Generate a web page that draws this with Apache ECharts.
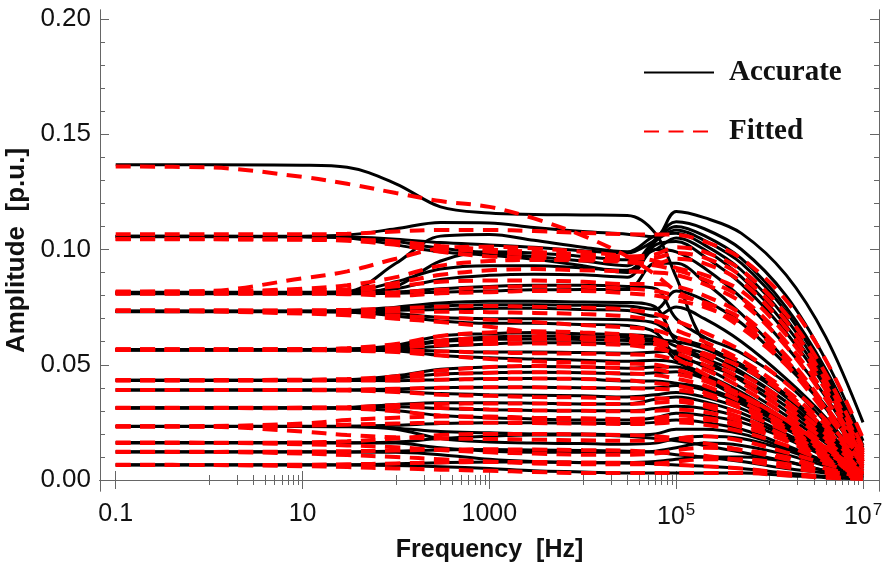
<!DOCTYPE html>
<html>
<head>
<meta charset="utf-8">
<script src="https://cdn.jsdelivr.net/npm/echarts@6/dist/echarts.min.js"></script>
<style>html,body{margin:0;padding:0;background:#fff;}#chart{width:885px;height:574px;}</style>
</head>
<body>
<div id="chart"></div>
<script>
// ---------- data ----------
const freq = [0.1, 1, 10, 30, 100, 300, 1000, 3000, 1e4, 3e4, 6e4, 1e5, 2e5, 5e5, 1.5e6, 4e6, 1e7];

// Accurate (solid black)
const acc01 = [0.1368,0.1368,0.1366,0.1357,0.1285,0.1185,0.1158,0.1152,0.1150,0.1148,0.1070,0.0880,0.0600,0.0500,0.0370,0.0210,0.0050];
const acc02 = [0.1058,0.1058,0.1058,0.1063,0.1090,0.1117,0.1115,0.1095,0.1078,0.1066,0.1055,0.1165,0.1138,0.1070,0.0890,0.0620,0.0250];
const acc03 = [0.1057,0.1057,0.1056,0.1053,0.1035,0.1005,0.0985,0.0970,0.0950,0.0930,0.1045,0.1120,0.1090,0.1000,0.0800,0.0520,0.0170];
const acc04 = [0.1055,0.1055,0.1054,0.1050,0.1020,0.0990,0.0975,0.0958,0.0930,0.0900,0.1035,0.1100,0.1060,0.0960,0.0750,0.0480,0.0150];
const acc05 = [0.0815,0.0815,0.0815,0.0818,0.0940,0.1058,0.1065,0.1040,0.1010,0.0990,0.1060,0.1070,0.1020,0.0910,0.0700,0.0440,0.0130];
const acc06 = [0.0812,0.0812,0.0812,0.0815,0.0860,0.0915,0.0930,0.0930,0.0920,0.0910,0.1020,0.1035,0.0970,0.0850,0.0640,0.0400,0.0110];
const acc07 = [0.0810,0.0810,0.0810,0.0812,0.0830,0.0870,0.0888,0.0893,0.0890,0.0880,0.1000,0.0990,0.0920,0.0790,0.0580,0.0360,0.0100];
const acc08 = [0.0808,0.0808,0.0808,0.0808,0.0810,0.0815,0.0820,0.0825,0.0826,0.0826,0.0940,0.0940,0.0860,0.0720,0.0520,0.0320,0.0090];
const acc09 = [0.0733,0.0733,0.0733,0.0735,0.0750,0.0768,0.0775,0.0775,0.0772,0.0770,0.0750,0.0600,0.0530,0.0460,0.0340,0.0200,0.0050];
const acc10 = [0.0732,0.0732,0.0732,0.0732,0.0736,0.0740,0.0745,0.0745,0.0740,0.0735,0.0710,0.0750,0.0700,0.0600,0.0440,0.0270,0.0070];
const acc11 = [0.0730,0.0730,0.0730,0.0728,0.0712,0.0690,0.0680,0.0680,0.0675,0.0670,0.0640,0.0540,0.0500,0.0440,0.0320,0.0180,0.0040];
const acc12 = [0.0566,0.0566,0.0566,0.0568,0.0585,0.0625,0.0635,0.0640,0.0635,0.0630,0.0620,0.0580,0.0550,0.0470,0.0340,0.0190,0.0050];
const acc13 = [0.0565,0.0565,0.0565,0.0565,0.0568,0.0580,0.0590,0.0595,0.0595,0.0590,0.0590,0.0550,0.0490,0.0400,0.0280,0.0160,0.0040];
const acc14 = [0.0564,0.0564,0.0564,0.0563,0.0560,0.0540,0.0530,0.0525,0.0520,0.0515,0.0520,0.0510,0.0460,0.0380,0.0260,0.0140,0.0030];
const acc15 = [0.0433,0.0433,0.0433,0.0435,0.0452,0.0480,0.0490,0.0492,0.0490,0.0485,0.0490,0.0490,0.0450,0.0370,0.0260,0.0140,0.0030];
const acc16 = [0.0432,0.0432,0.0432,0.0432,0.0431,0.0435,0.0440,0.0440,0.0438,0.0430,0.0430,0.0420,0.0400,0.0340,0.0240,0.0130,0.0030];
const acc17 = [0.0391,0.0391,0.0391,0.0390,0.0385,0.0375,0.0370,0.0368,0.0365,0.0360,0.0370,0.0380,0.0360,0.0310,0.0220,0.0120,0.0030];
const acc18 = [0.0313,0.0313,0.0313,0.0315,0.0328,0.0335,0.0335,0.0333,0.0330,0.0330,0.0350,0.0360,0.0340,0.0290,0.0200,0.0110,0.0020];
const acc19 = [0.0312,0.0312,0.0312,0.0311,0.0300,0.0280,0.0270,0.0265,0.0260,0.0260,0.0270,0.0290,0.0280,0.0250,0.0180,0.0100,0.0020];
const acc20 = [0.0233,0.0233,0.0233,0.0233,0.0225,0.0210,0.0205,0.0200,0.0200,0.0195,0.0200,0.0220,0.0220,0.0200,0.0140,0.0080,0.0020];
const acc21 = [0.0232,0.0232,0.0232,0.0231,0.0220,0.0180,0.0165,0.0160,0.0158,0.0155,0.0160,0.0180,0.0190,0.0180,0.0130,0.0070,0.0020];
const acc22 = [0.0163,0.0163,0.0163,0.0162,0.0160,0.0140,0.0125,0.0120,0.0120,0.0120,0.0125,0.0140,0.0160,0.0150,0.0110,0.0060,0.0010];
const acc23 = [0.0123,0.0123,0.0123,0.0122,0.0120,0.0110,0.0090,0.0080,0.0075,0.0075,0.0080,0.0090,0.0100,0.0100,0.0080,0.0040,0.0010];
const acc24 = [0.0066,0.0066,0.0066,0.0065,0.0063,0.0058,0.0050,0.0040,0.0035,0.0030,0.0030,0.0030,0.0030,0.0030,0.0020,0.0010,0.0005];
const acc25 = [0.0161,0.0161,0.0161,0.0160,0.0165,0.0180,0.0190,0.0195,0.0195,0.0190,0.0180,0.0170,0.0150,0.0120,0.0080,0.0040,0.0010];
const acc26 = [0.0565,0.0565,0.0565,0.0566,0.0575,0.0600,0.0610,0.0612,0.0610,0.0605,0.0600,0.0520,0.0440,0.0350,0.0240,0.0130,0.0030];
const acc27 = [0.1056,0.1056,0.1056,0.1054,0.1045,0.1030,0.1020,0.1010,0.0995,0.0985,0.1040,0.1085,0.1040,0.0940,0.0730,0.0460,0.0140];
const acc28 = [0.0811,0.0811,0.0811,0.0812,0.0840,0.0950,0.0990,0.0985,0.0970,0.0955,0.1000,0.1050,0.1000,0.0880,0.0670,0.0420,0.0120];
const acc29 = [0.0809,0.0809,0.0809,0.0810,0.0815,0.0830,0.0840,0.0845,0.0845,0.0840,0.0830,0.0700,0.0620,0.0550,0.0420,0.0250,0.0060];
const acc30 = [0.0731,0.0731,0.0731,0.0733,0.0742,0.0755,0.0760,0.0760,0.0758,0.0755,0.0740,0.0820,0.0780,0.0680,0.0500,0.0310,0.0080];
const acc31 = [0.0731,0.0731,0.0731,0.0730,0.0722,0.0705,0.0700,0.0700,0.0698,0.0695,0.0680,0.0620,0.0580,0.0500,0.0370,0.0220,0.0050];
const acc32 = [0.0566,0.0566,0.0566,0.0567,0.0580,0.0605,0.0620,0.0625,0.0622,0.0618,0.0610,0.0600,0.0570,0.0490,0.0360,0.0210,0.0050];
const acc33 = [0.0564,0.0564,0.0564,0.0564,0.0565,0.0560,0.0555,0.0555,0.0553,0.0550,0.0555,0.0560,0.0520,0.0430,0.0300,0.0170,0.0040];
const acc34 = [0.0433,0.0433,0.0433,0.0434,0.0442,0.0460,0.0465,0.0467,0.0465,0.0460,0.0465,0.0470,0.0440,0.0360,0.0250,0.0140,0.0030];
const acc35 = [0.0390,0.0390,0.0390,0.0391,0.0395,0.0400,0.0402,0.0402,0.0400,0.0398,0.0400,0.0410,0.0390,0.0330,0.0230,0.0120,0.0030];
const acc36 = [0.0312,0.0312,0.0312,0.0313,0.0318,0.0310,0.0305,0.0302,0.0300,0.0300,0.0310,0.0320,0.0310,0.0270,0.0190,0.0100,0.0020];
const acc37 = [0.0232,0.0232,0.0232,0.0233,0.0238,0.0245,0.0248,0.0248,0.0246,0.0245,0.0250,0.0260,0.0250,0.0220,0.0150,0.0080,0.0020];
const acc38 = [0.0122,0.0122,0.0122,0.0122,0.0125,0.0130,0.0132,0.0130,0.0128,0.0125,0.0120,0.0110,0.0100,0.0080,0.0050,0.0030,0.0010];
const acc39 = [0.0065,0.0065,0.0065,0.0066,0.0070,0.0075,0.0078,0.0078,0.0076,0.0074,0.0070,0.0065,0.0060,0.0050,0.0030,0.0015,0.0005];

// Fitted (dashed red)
const fit01 = [0.1360,0.1356,0.1315,0.1285,0.1245,0.1210,0.1185,0.1135,0.1060,0.0970,0.0890,0.0820,0.0760,0.0660,0.0500,0.0310,0.0080];
const fit02 = [0.1066,0.1066,0.1066,0.1068,0.1078,0.1085,0.1085,0.1080,0.1072,0.1066,0.1065,0.1064,0.1035,0.0960,0.0780,0.0520,0.0180];
const fit03 = [0.1046,0.1046,0.1045,0.1043,0.1035,0.1015,0.1000,0.0990,0.0980,0.0970,0.0980,0.1010,0.0990,0.0910,0.0720,0.0460,0.0140];
const fit04 = [0.1044,0.1044,0.1042,0.1038,0.1020,0.0990,0.0970,0.0965,0.0958,0.0950,0.0940,0.0960,0.0940,0.0860,0.0660,0.0410,0.0120];
const fit05 = [0.0815,0.0820,0.0875,0.0905,0.0960,0.1005,0.1012,0.1005,0.0990,0.0970,0.0950,0.0920,0.0890,0.0820,0.0630,0.0390,0.0110];
const fit06 = [0.0818,0.0818,0.0822,0.0828,0.0855,0.0890,0.0910,0.0915,0.0910,0.0905,0.0900,0.0890,0.0850,0.0770,0.0580,0.0350,0.0100];
const fit07 = [0.0812,0.0812,0.0815,0.0820,0.0840,0.0860,0.0865,0.0865,0.0860,0.0850,0.0850,0.0840,0.0800,0.0720,0.0540,0.0320,0.0090];
const fit08 = [0.0808,0.0808,0.0808,0.0806,0.0800,0.0810,0.0815,0.0820,0.0820,0.0810,0.0800,0.0780,0.0750,0.0680,0.0500,0.0290,0.0080];
const fit09 = [0.0733,0.0731,0.0722,0.0715,0.0700,0.0685,0.0665,0.0640,0.0615,0.0600,0.0590,0.0580,0.0550,0.0490,0.0370,0.0220,0.0060];
const fit10 = [0.0735,0.0735,0.0734,0.0733,0.0730,0.0730,0.0728,0.0725,0.0720,0.0710,0.0690,0.0650,0.0600,0.0520,0.0390,0.0240,0.0070];
const fit11 = [0.0567,0.0567,0.0568,0.0572,0.0590,0.0625,0.0640,0.0645,0.0640,0.0630,0.0610,0.0580,0.0540,0.0460,0.0340,0.0200,0.0050];
const fit12 = [0.0565,0.0565,0.0566,0.0567,0.0575,0.0585,0.0590,0.0592,0.0590,0.0585,0.0570,0.0550,0.0500,0.0420,0.0300,0.0170,0.0040];
const fit13 = [0.0564,0.0564,0.0563,0.0561,0.0555,0.0540,0.0525,0.0515,0.0510,0.0505,0.0500,0.0480,0.0440,0.0370,0.0260,0.0140,0.0030];
const fit14 = [0.0434,0.0434,0.0435,0.0438,0.0450,0.0475,0.0490,0.0495,0.0490,0.0485,0.0480,0.0460,0.0430,0.0360,0.0260,0.0140,0.0030];
const fit15 = [0.0432,0.0432,0.0432,0.0432,0.0432,0.0435,0.0438,0.0440,0.0438,0.0432,0.0420,0.0410,0.0380,0.0320,0.0230,0.0120,0.0030];
const fit16 = [0.0391,0.0391,0.0390,0.0388,0.0382,0.0370,0.0365,0.0360,0.0358,0.0355,0.0355,0.0350,0.0330,0.0290,0.0210,0.0110,0.0030];
const fit17 = [0.0313,0.0313,0.0314,0.0316,0.0325,0.0330,0.0332,0.0332,0.0330,0.0330,0.0335,0.0340,0.0320,0.0270,0.0190,0.0100,0.0020];
const fit18 = [0.0312,0.0312,0.0311,0.0310,0.0298,0.0280,0.0270,0.0265,0.0262,0.0260,0.0260,0.0260,0.0260,0.0230,0.0170,0.0090,0.0020];
const fit19 = [0.0233,0.0234,0.0245,0.0260,0.0270,0.0275,0.0275,0.0270,0.0268,0.0265,0.0270,0.0280,0.0270,0.0240,0.0170,0.0090,0.0020];
const fit20 = [0.0232,0.0231,0.0210,0.0195,0.0185,0.0180,0.0178,0.0175,0.0172,0.0170,0.0172,0.0180,0.0190,0.0170,0.0120,0.0070,0.0020];
const fit21 = [0.0163,0.0162,0.0155,0.0150,0.0142,0.0130,0.0120,0.0115,0.0110,0.0110,0.0115,0.0130,0.0140,0.0130,0.0100,0.0050,0.0010];
const fit22 = [0.0123,0.0122,0.0115,0.0108,0.0100,0.0090,0.0080,0.0072,0.0068,0.0068,0.0070,0.0080,0.0090,0.0090,0.0070,0.0040,0.0010];
const fit23 = [0.0066,0.0065,0.0060,0.0056,0.0050,0.0045,0.0040,0.0035,0.0030,0.0030,0.0030,0.0030,0.0030,0.0030,0.0020,0.0010,0.0005];
const fit24 = [0.0161,0.0161,0.0163,0.0168,0.0180,0.0195,0.0200,0.0200,0.0198,0.0195,0.0190,0.0180,0.0160,0.0130,0.0090,0.0050,0.0010];
const fit25 = [0.0565,0.0565,0.0565,0.0566,0.0572,0.0595,0.0605,0.0610,0.0608,0.0602,0.0590,0.0530,0.0460,0.0370,0.0260,0.0140,0.0030];
const fit26 = [0.1045,0.1045,0.1044,0.1041,0.1028,0.1005,0.0990,0.0978,0.0970,0.0962,0.0965,0.0985,0.0965,0.0885,0.0690,0.0430,0.0130];
const fit27 = [0.0816,0.0817,0.0830,0.0845,0.0880,0.0930,0.0950,0.0955,0.0952,0.0945,0.0930,0.0910,0.0870,0.0790,0.0600,0.0370,0.0100];
const fit28 = [0.0810,0.0810,0.0810,0.0810,0.0815,0.0825,0.0835,0.0840,0.0838,0.0830,0.0820,0.0800,0.0770,0.0700,0.0520,0.0310,0.0080];
const fit29 = [0.0734,0.0733,0.0728,0.0722,0.0712,0.0705,0.0695,0.0685,0.0672,0.0662,0.0650,0.0620,0.0580,0.0510,0.0380,0.0230,0.0060];
const fit30 = [0.0735,0.0735,0.0736,0.0738,0.0745,0.0752,0.0755,0.0752,0.0748,0.0740,0.0720,0.0690,0.0640,0.0560,0.0420,0.0260,0.0070];
const fit31 = [0.0566,0.0566,0.0567,0.0570,0.0582,0.0605,0.0618,0.0622,0.0620,0.0615,0.0600,0.0570,0.0520,0.0440,0.0320,0.0180,0.0040];
const fit32 = [0.0564,0.0564,0.0564,0.0563,0.0562,0.0558,0.0553,0.0550,0.0548,0.0545,0.0540,0.0520,0.0480,0.0400,0.0280,0.0150,0.0030];
const fit33 = [0.0433,0.0433,0.0434,0.0436,0.0442,0.0458,0.0465,0.0468,0.0466,0.0462,0.0455,0.0440,0.0410,0.0340,0.0240,0.0130,0.0030];
const fit34 = [0.0390,0.0390,0.0391,0.0392,0.0396,0.0400,0.0402,0.0402,0.0400,0.0398,0.0395,0.0390,0.0370,0.0310,0.0220,0.0120,0.0030];
const fit35 = [0.0312,0.0312,0.0313,0.0314,0.0316,0.0312,0.0306,0.0302,0.0300,0.0298,0.0300,0.0305,0.0295,0.0255,0.0180,0.0095,0.0020];
const fit36 = [0.0232,0.0232,0.0236,0.0240,0.0245,0.0248,0.0248,0.0247,0.0245,0.0243,0.0245,0.0250,0.0240,0.0210,0.0150,0.0080,0.0020];
const fit37 = [0.0122,0.0122,0.0123,0.0125,0.0128,0.0132,0.0133,0.0132,0.0130,0.0127,0.0122,0.0115,0.0105,0.0085,0.0055,0.0030,0.0010];
const fit38 = [0.0065,0.0065,0.0066,0.0068,0.0072,0.0076,0.0078,0.0078,0.0076,0.0074,0.0070,0.0066,0.0060,0.0050,0.0030,0.0015,0.0005];

const accurateCurves = [acc01,acc02,acc03,acc04,acc05,acc06,acc07,acc08,acc09,acc10,acc11,acc12,acc13,
  acc14,acc15,acc16,acc17,acc18,acc19,acc20,acc21,acc22,acc23,acc24,acc25,acc26,acc27,acc28,acc29,acc30,
  acc31,acc32,acc33,acc34,acc35,acc36,acc37,acc38,acc39];
const fittedCurves = [fit01,fit02,fit03,fit04,fit05,fit06,fit07,fit08,fit09,fit10,fit11,fit12,fit13,
  fit14,fit15,fit16,fit17,fit18,fit19,fit20,fit21,fit22,fit23,fit24,fit25,fit26,fit27,fit28,fit29,fit30,
  fit31,fit32,fit33,fit34,fit35,fit36,fit37,fit38];

// ticks
const xTickValues = [0.1, 10, 1000, 1e5, 1e7];
const xTickLabels = ['0.1', '10', '1000', '10{sup|5}', '10{sup|7}'];
const xMinorTicks = [1,2,3,4,5,6,7,8,9, 100,200,300,400,500,600,700,800,900,
  1e4,2e4,3e4,4e4,5e4,6e4,7e4,8e4,9e4, 1e6,2e6,3e6,4e6,5e6,6e6,7e6,8e6,9e6];
const yTickValues = [0, 0.05, 0.10, 0.15, 0.20];
const yTickLabels = ['0.00', '0.05', '0.10', '0.15', '0.20'];
const yMinorTicks = [0.01,0.02,0.03,0.04,0.06,0.07,0.08,0.09,0.11,0.12,0.13,0.14,0.16,0.17,0.18,0.19];

// ---------- chart ----------
const X_MIN = 0.0679, X_MAX = 1.483e7, Y_MIN = -0.00477, Y_MAX = 0.2039;
const FRAME = '#666';
const chart = echarts.init(document.getElementById('chart'), null, {renderer: 'canvas'});

function xAxisDef(position, values, len, withLabels) {
  return {
    type: 'log', position: position, min: X_MIN, max: X_MAX, logBase: 10,
    axisLine: {show: true, lineStyle: {color: FRAME, width: 1}},
    axisTick: {show: true, inside: true, length: len, customValues: values, lineStyle: {color: FRAME, width: 1}},
    axisLabel: withLabels ? {
      show: true, customValues: xTickValues, margin: 11,
      fontFamily: 'Liberation Sans', fontSize: 25, color: '#111',
      formatter: function (v) {
        const i = xTickValues.findIndex(t => Math.abs(Math.log10(t) - Math.log10(v)) < 1e-6);
        return i >= 0 ? xTickLabels[i] : '';
      },
      rich: {sup: {fontFamily: 'Liberation Sans', fontSize: 17, color: '#111', verticalAlign: 'bottom', padding: [0, 0, 14, 1]}}
    } : {show: false},
    splitLine: {show: false}, minorTick: {show: false}
  };
}
function yAxisDef(position, values, len, withLabels) {
  return {
    type: 'value', position: position, min: Y_MIN, max: Y_MAX,
    axisLine: {show: true, lineStyle: {color: FRAME, width: 1}},
    axisTick: {show: true, inside: true, length: len, customValues: values, lineStyle: {color: FRAME, width: 1}},
    axisLabel: withLabels ? {
      show: true, customValues: yTickValues, margin: 9,
      fontFamily: 'Liberation Sans', fontSize: 26, color: '#111',
      formatter: function (v) {
        const i = yTickValues.findIndex(t => Math.abs(t - v) < 1e-9);
        return i >= 0 ? yTickLabels[i] : '';
      }
    } : {show: false},
    splitLine: {show: false}
  };
}

const series = [];
accurateCurves.forEach(function (c) {
  series.push({
    name: 'Accurate', type: 'line', xAxisIndex: 0, yAxisIndex: 0,
    data: freq.map((f, i) => [f, c[i]]),
    symbol: 'none', smooth: 0.35, clip: true,
    lineStyle: {color: '#000', width: 3, type: 'solid'},
    itemStyle: {color: '#000'}, z: 2
  });
});
fittedCurves.forEach(function (c) {
  series.push({
    name: 'Fitted', type: 'line', xAxisIndex: 0, yAxisIndex: 0,
    data: freq.map((f, i) => [f, c[i]]),
    symbol: 'none', smooth: 0.35, clip: true,
    lineStyle: {color: '#ff0000', width: 4, type: [15, 9.5]},
    itemStyle: {color: '#ff0000'}, z: 3
  });
});

chart.setOption({
  animation: false,
  backgroundColor: '#fff',
  grid: {left: 100, right: 6, top: 10, bottom: 83, containLabel: false, outerBoundsMode: 'none'},
  xAxis: [
    Object.assign(xAxisDef('bottom', xTickValues, 9, true), {
      name: 'Frequency  [Hz]', nameLocation: 'middle', nameGap: 47,
      nameTextStyle: {fontFamily: 'Liberation Sans', fontWeight: 'bold', fontSize: 25, color: '#111'}
    }),
    xAxisDef('bottom', xMinorTicks, 5, false),
    xAxisDef('top', xTickValues, 9, false),
    xAxisDef('top', xMinorTicks, 5, false)
  ],
  yAxis: [
    Object.assign(yAxisDef('left', yTickValues, 9, true), {
      name: 'Amplitude  [p.u.]', nameLocation: 'middle', nameGap: 64,
      nameTextStyle: {fontFamily: 'Liberation Sans', fontWeight: 'bold', fontSize: 26, color: '#111'}
    }),
    yAxisDef('left', yMinorTicks, 5, false),
    yAxisDef('right', yTickValues, 9, false),
    yAxisDef('right', yMinorTicks, 5, false)
  ],
  legend: {
    show: true, orient: 'vertical', left: 643, top: 58, padding: 0,
    itemWidth: 70, itemHeight: 14, itemGap: 30,
    itemStyle: {opacity: 0},
    data: [{name: 'Accurate'}, {name: 'Fitted'}],
    textStyle: {fontFamily: 'Liberation Serif', fontWeight: 'bold', fontSize: 29, color: '#111', padding: [0, 0, 0, 10]},
    selectedMode: false
  },
  series: series
});
</script>
</body>
</html>
